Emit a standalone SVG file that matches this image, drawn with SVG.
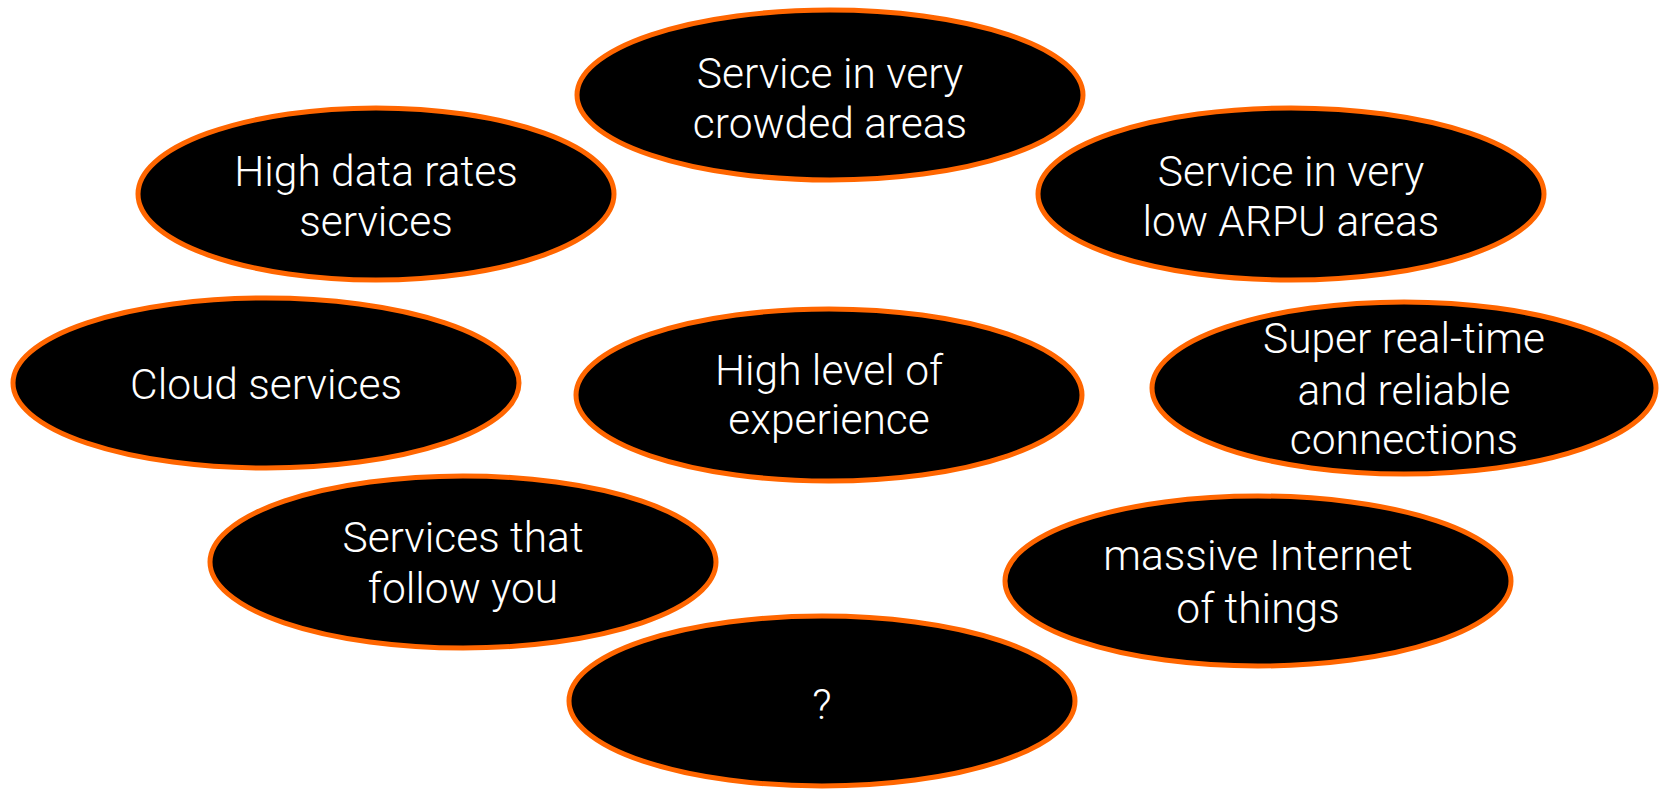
<svg xmlns="http://www.w3.org/2000/svg" width="1660" height="790" viewBox="0 0 1660 790">
  <style>
    .bubble { fill: #000000; stroke: #FF6600; stroke-width: 5; }
    .label { fill: #FFFFFF; font-family: Roboto, "Liberation Sans", Arial, sans-serif; font-weight: 300; font-size: 42.5px; text-anchor: middle; }
  </style>
  <rect width="1660" height="790" fill="#FFFFFF"/>

  <g id="node-crowded">
    <ellipse class="bubble" cx="830" cy="95" rx="253" ry="85"/>
    <text class="label" x="830" y="88">Service in very</text>
    <text class="label" x="830" y="138">crowded areas</text>
  </g>

  <g id="node-high-data">
    <ellipse class="bubble" cx="376" cy="194" rx="238" ry="86"/>
    <text class="label" x="376" y="186">High data rates</text>
    <text class="label" x="376" y="236">services</text>
  </g>

  <g id="node-low-arpu">
    <ellipse class="bubble" cx="1291" cy="194" rx="253" ry="86"/>
    <text class="label" x="1291" y="186">Service in very</text>
    <text class="label" x="1291" y="236">low ARPU areas</text>
  </g>

  <g id="node-cloud">
    <ellipse class="bubble" cx="266" cy="383" rx="253" ry="85"/>
    <text class="label" x="266" y="399">Cloud services</text>
  </g>

  <g id="node-experience">
    <ellipse class="bubble" cx="829" cy="395" rx="253" ry="86"/>
    <text class="label" x="829" y="385">High level of</text>
    <text class="label" x="829" y="434">experience</text>
  </g>

  <g id="node-realtime">
    <ellipse class="bubble" cx="1404" cy="388" rx="252" ry="86"/>
    <text class="label" x="1404" y="353">Super real-time</text>
    <text class="label" x="1404" y="405">and reliable</text>
    <text class="label" x="1404" y="454">connections</text>
  </g>

  <g id="node-follow">
    <ellipse class="bubble" cx="463" cy="562" rx="253" ry="86"/>
    <text class="label" x="463" y="552">Services that</text>
    <text class="label" x="463" y="603">follow you</text>
  </g>

  <g id="node-iot">
    <ellipse class="bubble" cx="1258" cy="581" rx="253" ry="85"/>
    <text class="label" x="1258" y="570">massive Internet</text>
    <text class="label" x="1258" y="623">of things</text>
  </g>

  <g id="node-unknown">
    <ellipse class="bubble" cx="822" cy="701" rx="253" ry="85"/>
    <text class="label" x="822" y="719">?</text>
  </g>

  <g id="connectors"/>
</svg>
